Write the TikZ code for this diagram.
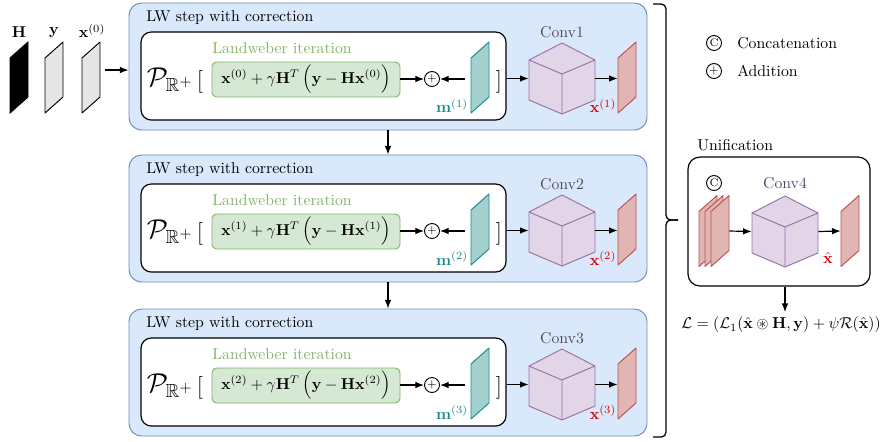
\documentclass[tikz,border=0pt]{standalone}
\usepackage{amsmath,amssymb}
\usetikzlibrary{arrows.meta,fit,calc}
\definecolor{bfill}{HTML}{DAE8FC}\definecolor{bdraw}{HTML}{6C8EBF}
\definecolor{gfill}{HTML}{D5E8D4}\definecolor{gdraw}{HTML}{82B366}
\definecolor{pfill}{HTML}{E1D5E7}\definecolor{pdraw}{HTML}{9673A6}
\definecolor{rfill}{HTML}{E0B5B3}\definecolor{rdraw}{HTML}{B85450}
\definecolor{tfill}{HTML}{A3CFCF}\definecolor{tdraw}{HTML}{1B8A8A}
\definecolor{mtext}{HTML}{1B8A8A}\definecolor{xred}{HTML}{D40000}
\definecolor{convtxt}{HTML}{56466A}\definecolor{ingray}{HTML}{E6E6E6}
\tikzset{
 arr/.style={-{Latex[length=5.5pt,width=4.2pt]}, line width=0.75pt},
 bluebox/.style={draw=bdraw, fill=bfill, line width=0.6pt, rounded corners=8pt, inner sep=0pt},
 whitebox/.style={draw=black, fill=white, line width=0.75pt, rounded corners=6.5pt, inner sep=0pt},
 greenbox/.style={draw=gdraw, fill=gfill, line width=0.6pt, rounded corners=3pt, inner sep=0pt},
 lbl/.style={inner sep=0pt},
 opc/.style={circle, draw, line width=0.6pt, minimum size=9.5pt, inner sep=0pt},
 redsl/.style={draw=rdraw, fill=rfill, line width=0.6pt, line join=round},
 tealsl/.style={draw=tdraw, fill=tfill, line width=0.6pt, line join=round},
 insl/.style={draw=black, fill=ingray, line width=0.6pt, line join=round},
}
\newcommand\slab[4]{%
 \draw[#4] (#2,{#3+35.5}) -- (#2,{#3-19.5}) -- ({#2+18},{#3-35.5}) -- ({#2+18},{#3+19.5}) -- cycle;
 \node[fit={(#2,{#3-35.5}) ({#2+18},{#3+35.5})}, inner sep=0pt] (#1) {};}
\newcommand\drawcube[3]{%
 \draw[pdraw, fill=pfill, line width=0.6pt, line join=round] (#2,{#3-35.5}) -- ({#2+33},{#3-18.5}) -- ({#2+33},{#3+21.5}) -- (#2,{#3+35.5}) -- ({#2-33},{#3+21.5}) -- ({#2-33},{#3-18.5}) -- cycle;
 \draw[pdraw, line width=0.6pt, line join=round] ({#2-33},{#3-18.5}) -- (#2,{#3-4.5}) -- ({#2+33},{#3-18.5}) (#2,{#3-4.5}) -- (#2,{#3+35.5});
 \node[fit={({#2-33},{#3-35.5}) ({#2+33},{#3+35.5})}, inner sep=0pt] (#1) {};}
\begin{document}
\begin{tikzpicture}[x=0.635pt,y=-0.635pt]
\useasboundingbox (0,0) rectangle (888,441);
% inputs
\slab{inH}{10}{77.5}{draw=black,fill=black,line width=0.6pt}
\slab{inY}{45}{77.5}{insl}
\slab{inX}{82}{77.5}{insl}
\node[lbl] (lH) at (19,32) {$\mathbf{H}$};
\node[lbl] (lY) at (54,33) {$\mathbf{y}$};
\node[lbl] (lX) at (92,31) {$\mathbf{x}^{(0)}$};
% steps
\foreach \k/\dy/\p in {1/0/0,2/152/1,3/306/2}{
 \pgfmathsetmacro\cy{77.5+\dy}
 \pgfmathsetmacro\cyc{78.5+\dy}
 \node[bluebox, fit={(129,{3+\dy}) (647,{130+\dy})}] (lw\k) {};
 \node[lbl, anchor=west] (t\k) at (146,{18+\dy}) {LW step with correction};
 \node[whitebox, fit={(141,{32+\dy}) (506,{120+\dy})}] (in\k) {};
 \node[lbl] (pr\k) at (170,{80+\dy}) {\LARGE$\mathcal{P}_{\mathbb{R}^+}$};
 \node[lbl] (ob\k) at (200,{82+\dy}) {\Large[};
 \node[lbl] (cb\k) at (499,{82+\dy}) {\Large]};
 \node[greenbox, fit={(212,{62+\dy}) (400,{97+\dy})}] (g\k) {};
 \node[lbl] (f\k) at (g\k) {$\mathbf{x}^{(\p)} + \gamma\mathbf{H}^T\,\Big(\mathbf{y} - \mathbf{H}\mathbf{x}^{(\p)}\Big)$};
 \node[lbl, anchor=west, text=gdraw] (lt\k) at (212,{48+\dy}) {Landweber iteration};
 \node[opc] (pl\k) at (432,{79+\dy}) {\scriptsize$+$};
 \slab{m\k}{471}{\cy}{tealsl}
 \node[lbl, text=mtext] (ml\k) at (452,{106+\dy}) {$\mathbf{m}^{(\k)}$};
 \drawcube{c\k}{562}{\cyc}
 \node[lbl, text=convtxt] (cl\k) at (562,{32+\dy}) {Conv\k};
 \slab{o\k}{618}{\cy}{redsl}
 \node[lbl, text=xred] (xl\k) at (603,{106+\dy}) {$\mathbf{x}^{(\k)}$};
 \coordinate (ms\k) at (465,{79+\dy});
 \draw[arr] (g\k.east |- pl\k) -- (pl\k.west);
 \draw[arr] (ms\k) -- (pl\k.east);
 \draw[arr] (in\k.east |- c\k) -- (c\k.west);
 \draw[arr] (c\k.east) -- (o\k.west |- c\k);
}
\draw[arr] (lw1.south) -- (lw2.north);
\draw[arr] (lw2.south) -- (lw3.north);
\coordinate (a0) at (105,70);
\draw[arr] (a0) -- (a0 -| lw1.west);
% brace
\draw[line width=0.8pt, rounded corners=3pt] (653,4) -- (666,4) -- (666,220) -- (678,220);
\draw[line width=0.8pt, rounded corners=3pt] (653,437) -- (666,437) -- (666,220) -- (678,220);
% legend
\node[opc] (lc) at (714,43) {\scriptsize C};
\node[lbl, anchor=west] (lct) at (737,43) {Concatenation};
\node[opc] (lp) at (714,71) {\scriptsize$+$};
\node[lbl, anchor=west] (lpt) at (737,71) {Addition};
% unification
\node[lbl, anchor=west] (ut) at (697,145) {Unification};
\node[whitebox, rounded corners=7.6pt, fit={(688,157) (870,286)}] (un) {};
\node[opc] (cc) at (714,183) {\scriptsize C};
\slab{s1}{699}{231}{redsl}
\slab{s2}{705}{231}{redsl}
\slab{s3}{711}{231}{redsl}
\drawcube{c4}{785}{231.5}
\node[lbl, text=convtxt] (cl4) at (785,183) {Conv4};
\slab{o4}{841}{231}{redsl}
\node[lbl, text=xred] (xh) at (828,258) {$\hat{\mathbf{x}}$};
\draw[arr] (s3.east) -- (c4.west);
\draw[arr] (c4.east) -- (o4.west);
\node[inner sep=3pt] (loss) at (781,325) {$\mathcal{L} = (\mathcal{L}_1(\hat{\mathbf{x}} \circledast \mathbf{H}, \mathbf{y}) + \psi\mathcal{R}(\hat{\mathbf{x}}))$};
\draw[arr] (un.south -| c4) -- (loss.north -| c4);
\end{tikzpicture}
\end{document}
